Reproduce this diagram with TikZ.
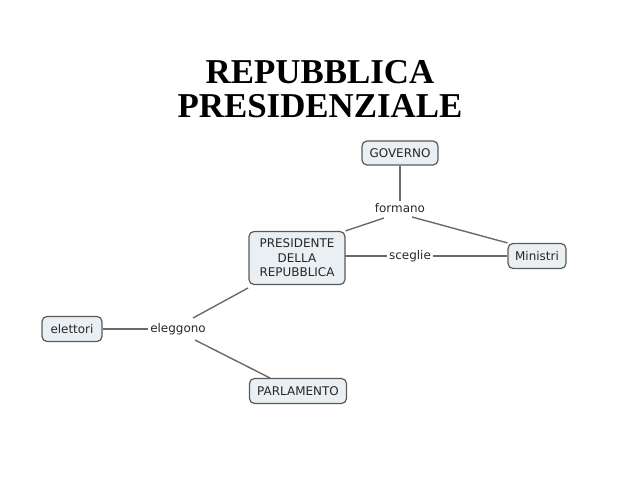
\documentclass[tikz,border=0pt]{standalone}
\usepackage{fontspec}
\setmainfont{Liberation Serif}
\newfontfamily\mapfont{DejaVu Sans}
\definecolor{boxfill}{HTML}{E9EFF3}
\definecolor{boxline}{HTML}{5A5A5A}
\definecolor{linkcol}{HTML}{6A6A6A}
\begin{document}
\begin{tikzpicture}[x=1bp,y=-1bp,
  concept/.style={draw=boxline,fill=boxfill,rounded corners=5bp,line width=1.2bp,
    font=\mapfont\fontsize{12}{14.5}\selectfont,align=center,inner sep=0bp,text=black!85},
  linklabel/.style={font=\mapfont\fontsize{12}{14.5}\selectfont,inner sep=2bp,text=black!85},
  link/.style={draw=linkcol,line width=1.4bp}]
\useasboundingbox (0,0) rectangle (638,479);
\node[font=\bfseries\fontsize{35}{33.5}\selectfont,align=center] (title) at (320,89) {REPUBBLICA\\PRESIDENZIALE};
\node[concept,minimum width=76bp,minimum height=24bp] (gov) at (400,153) {GOVERNO};
\node[concept,minimum width=96bp,minimum height=53bp] (pres) at (297,258) {PRESIDENTE\\DELLA\\REPUBBLICA};
\node[concept,minimum width=58bp,minimum height=25bp] (min) at (537,256) {Ministri};
\node[concept,minimum width=60bp,minimum height=25bp] (ele) at (72,329) {elettori};
\node[concept,minimum width=97bp,minimum height=25bp] (parl) at (298,391) {PARLAMENTO};
\node[linklabel] (formano) at (400,208) {formano};
\node[linklabel] (sceglie) at (410,256) {sceglie};
\node[linklabel] (eleggono) at (178,329) {eleggono};
\coordinate (fmL) at (384,218);
\coordinate (fmR) at (412,217);
\coordinate (elU) at (193,318);
\coordinate (elD) at (195,340);
\coordinate (prB) at (248,288);
\coordinate (paT) at (270,378);
\coordinate (prR) at (345,256);
\draw[link] (gov) -- (formano);
\draw[link] (fmL) -- (pres.north east);
\draw[link] (fmR) -- (min.north west);
\draw[link] (prR) -- (sceglie);
\draw[link] (sceglie) -- (min);
\draw[link] (ele) -- (eleggono);
\draw[link] (elU) -- (prB);
\draw[link] (elD) -- (paT);
\end{tikzpicture}
\end{document}
